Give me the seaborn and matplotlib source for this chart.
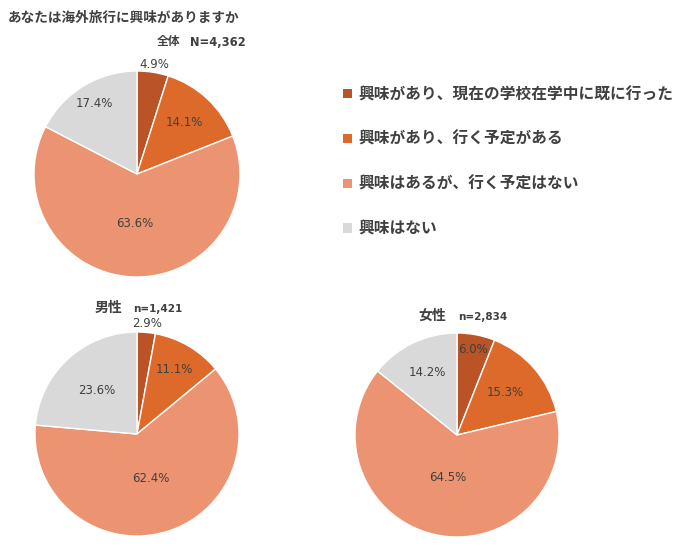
import matplotlib
matplotlib.use("Agg")
import matplotlib.pyplot as plt
import seaborn as sns
import numpy as np

# Data
categories = ["興味があり、現在の学校在学中に既に行った",
              "興味があり、行く予定がある",
              "興味はあるが、行く予定はない",
              "興味はない"]
total_vals = [4.9, 14.1, 63.6, 17.4]
male_vals = [2.9, 11.1, 62.4, 23.6]
female_vals = [6.0, 15.3, 64.5, 14.2]
total_n = "N=4,362"
male_n = "n=1,421"
female_n = "n=2,834"

colors = ["#BA5325", "#DD6A2B", "#EC9472", "#D9D9D9"]
text_col = "#404040"

sns.set_theme(style="white")
plt.rcParams['font.family'] = ['Noto Sans CJK JP', 'DejaVu Sans']

W, H = 686, 551
fig = plt.figure(figsize=(W / 100, H / 100), dpi=100)
ax = fig.add_axes([0, 0, 1, 1])


def draw_pie(vals, cx, cy, r, dists):
    wedges, _ = ax.pie(vals, colors=colors, startangle=90, counterclock=False,
                       center=(cx, H - cy), radius=r, frame=True,
                       wedgeprops=dict(edgecolor="white", linewidth=1.0))
    for w, v, d in zip(wedges, vals, dists):
        mid = np.deg2rad((w.theta1 + w.theta2) / 2)
        x = w.center[0] + d * w.r * np.cos(mid)
        y = w.center[1] + d * w.r * np.sin(mid)
        ax.text(x, y, f"{v:.1f}%", ha="center", va="center", fontsize=8.5,
                color=text_col, family="DejaVu Sans")
    return wedges


wedges = draw_pie(total_vals, 137, 174, 103, [1.08, 0.68, 0.48, 0.80])
draw_pie(male_vals, 137, 434, 102, [1.09, 0.73, 0.46, 0.58])
draw_pie(female_vals, 457, 435, 102, [0.85, 0.63, 0.43, 0.68])

ax.set_xlim(0, W)
ax.set_ylim(0, H)
ax.set_aspect("equal", adjustable="box")
ax.axis("off")

# Titles
ax.text(8, H - 18, "あなたは海外旅行に興味がありますか", fontsize=9.8,
        fontweight="bold", color=text_col, va="center", ha="left")
ax.text(157, H - 42, "全体", fontsize=8.5, fontweight="bold",
        color=text_col, va="center", ha="left")
ax.text(190, H - 42, total_n, fontsize=8.3, fontweight="bold",
        color=text_col, va="center", ha="left", family="DejaVu Sans")
ax.text(95, H - 308, "男性", fontsize=10, fontweight="bold",
        color=text_col, va="center", ha="left")
ax.text(133, H - 309, male_n, fontsize=7.5, fontweight="bold",
        color=text_col, va="center", ha="left", family="DejaVu Sans")
ax.text(418, H - 316, "女性", fontsize=10, fontweight="bold",
        color=text_col, va="center", ha="left")
ax.text(458, H - 317, female_n, fontsize=7.5, fontweight="bold",
        color=text_col, va="center", ha="left", family="DejaVu Sans")

# Legend
leg = fig.legend(wedges, categories, loc="upper left",
                 bbox_to_anchor=(329 / W, 1 - 72 / H), frameon=False,
                 handlelength=0.55, handleheight=0.55,
                 handletextpad=0.45, labelspacing=1.84, labelcolor=text_col,
                 prop=dict(weight="bold", size=11.3))
for h in leg.legend_handles:
    h.set_edgecolor("none")

fig.savefig("out.png", dpi=100)
